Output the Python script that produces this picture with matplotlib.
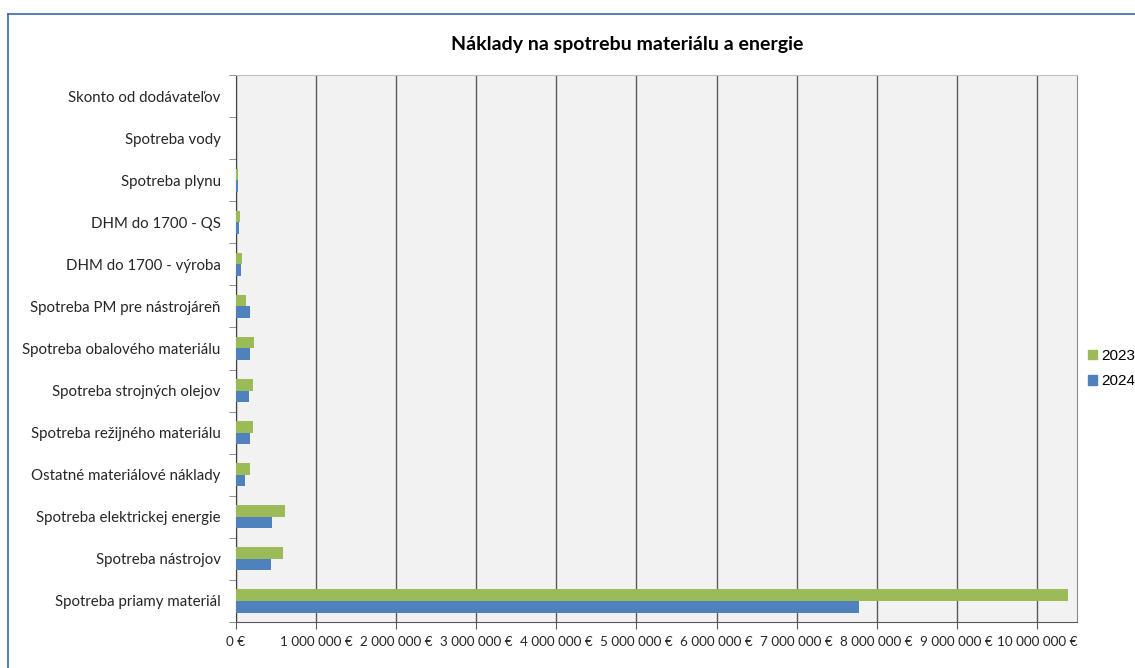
import matplotlib.pyplot as plt
import numpy as np
from matplotlib.lines import Line2D
from matplotlib.patches import Patch
from matplotlib.ticker import FuncFormatter

# kategórie zdola nahor (ako v grafe)
categories = ['Spotreba priamy materiál', 'Spotreba nástrojov', 'Spotreba elektrickej energie',
              'Ostatné materiálové náklady', 'Spotreba režijného materiálu', 'Spotreba strojných olejov',
              'Spotreba obalového materiálu', 'Spotreba PM pre nástrojáreň', 'DHM do 1700 - výroba',
              'DHM do 1700 - QS', 'Spotreba plynu', 'Spotreba vody', 'Skonto od dodávateľov']
values_2023 = [10390000, 590000, 610000, 170000, 210000, 210000, 230000, 125000, 80000, 50000, 25000, 3000, 0]
values_2024 = [7775000, 440000, 450000, 110000, 180000, 160000, 170000, 170000, 60000, 35000, 30000, 2000, 0]
x_ticks = np.arange(0, 10000001, 1000000)

green = '#9BBB59'
blue = '#4F81BD'

plt.rcParams['font.family'] = ['Lato', 'DejaVu Sans']

fig = plt.figure(figsize=(11.35, 6.68), dpi=100)
ax = fig.add_axes([0.2079, 0.0689, 0.9489 - 0.2079, 0.8877 - 0.0689])
ax.set_facecolor('#F2F2F2')

y = np.arange(len(categories))
h = 0.275
ax.barh(y + h / 2, values_2023, height=h, color=green, zorder=3)
ax.barh(y - h / 2, values_2024, height=h, color=blue, zorder=3)

ax.set_xlim(0, 10500000)
ax.set_ylim(-0.5, len(categories) - 0.5)

# os x
ax.set_xticks(x_ticks)
ax.xaxis.set_major_formatter(FuncFormatter(lambda v, p: f'{int(v):,} €'.replace(',', ' ')))
ax.grid(axis='x', color='#5A5A5A', linewidth=1.0, zorder=1)
ax.tick_params(axis='x', direction='out', length=5, color='#595959', labelsize=9.7,
               labelcolor='#262626', pad=5)

# os y - popisky v stredoch, čiarky na hraniciach
ax.set_yticks(y)
ax.set_yticklabels(categories, fontsize=10.8, color='#262626')
ax.tick_params(axis='y', which='major', length=0, pad=11)
ax.set_yticks(np.arange(-0.5, len(categories)), minor=True)
ax.tick_params(axis='y', which='minor', direction='out', length=5, color='#808080')

ax.spines['left'].set_color('#404040')
ax.spines['bottom'].set_color('#595959')
ax.spines['right'].set_color('#8C8C8C')
ax.spines['top'].set_color('#BFBFBF')

fig.text(0.5524, 0.933, 'Náklady na spotrebu materiálu a energie', ha='center', va='center',
         fontsize=14, fontweight='bold', color='#000000')

handles = [Patch(color=green, label='2023'), Patch(color=blue, label='2024')]
fig.legend(handles=handles, loc='center left', bbox_to_anchor=(0.953, 0.448), frameon=False,
           prop={'family': 'Liberation Sans', 'size': 11}, handlelength=0.6, handleheight=0.6,
           handletextpad=0.3, labelspacing=0.75, borderaxespad=0)

# modrý okraj grafu
fig.add_artist(Line2D([8 / 1135, 1], [1 - 14 / 668, 1 - 14 / 668], color='#3A67A8', linewidth=1.2))
fig.add_artist(Line2D([8 / 1135, 8 / 1135], [0, 1 - 14 / 668], color='#3A67A8', linewidth=1.2))

plt.savefig('out.png', dpi=100)
